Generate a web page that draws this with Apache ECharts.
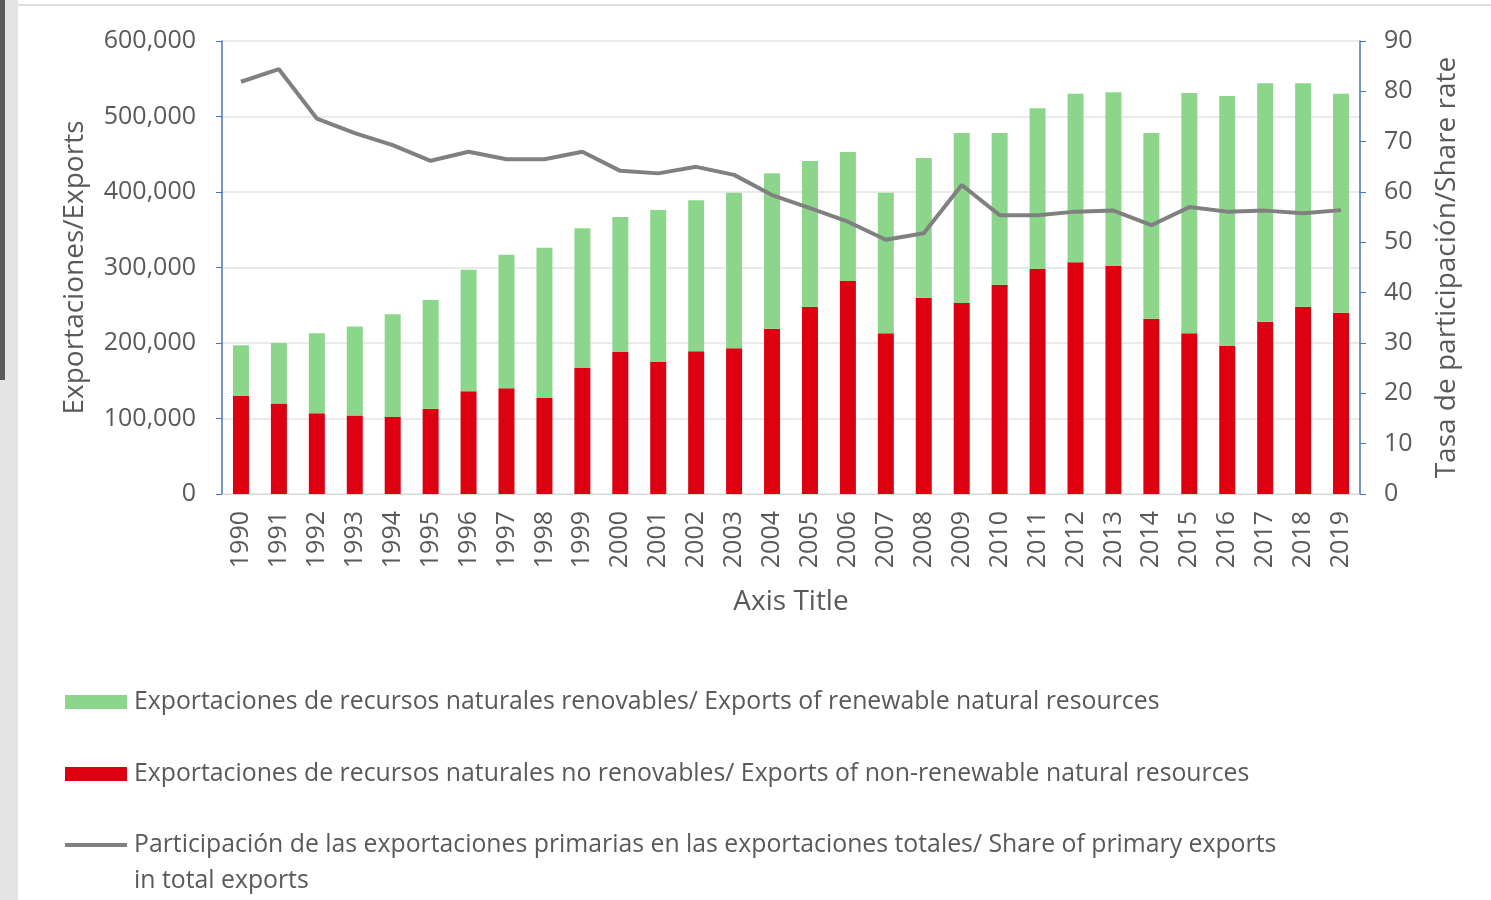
<!DOCTYPE html>
<html>
<head>
<meta charset="utf-8">
<script src="https://cdn.jsdelivr.net/npm/echarts@6/dist/echarts.min.js"></script>
<style>
  html, body { margin: 0; padding: 0; background: #ffffff; }
  #chart { width: 1491px; height: 900px; }
</style>
</head>
<body>
<div id="chart"></div>
<script>
  // years on the category axis
  var years = [
    "1990", "1991", "1992", "1993", "1994", "1995", "1996", "1997", "1998", "1999",
    "2000", "2001", "2002", "2003", "2004", "2005", "2006", "2007", "2008", "2009",
    "2010", "2011", "2012", "2013", "2014", "2015", "2016", "2017", "2018", "2019"
  ];

  // non-renewable natural resource exports (red, bottom of the stack)
  var nonRenewable = [
    130000, 120000, 107000, 104000, 102000, 113000, 136000, 140000, 127000, 167000,
    188000, 175000, 189000, 193000, 219000, 248000, 282000, 213000, 260000, 253000,
    277000, 298000, 307000, 302000, 232000, 213000, 196000, 228000, 248000, 240000
  ];

  // renewable natural resource exports (green, stacked on top)
  var renewable = [
    67000, 80000, 106000, 118000, 136000, 144000, 161000, 177000, 199000, 185000,
    179000, 201000, 200000, 206000, 206000, 193000, 171000, 186000, 185000, 225000,
    201000, 213000, 223000, 230000, 246000, 318000, 331000, 316000, 296000, 290000
  ];

  // share of primary exports in total exports (right axis)
  var shareRate = [
    81.9, 84.4, 74.6, 71.7, 69.3, 66.2, 68.0, 66.5, 66.5, 68.0,
    64.2, 63.7, 65.0, 63.4, 59.4, 56.8, 54.1, 50.5, 51.8, 61.4,
    55.4, 55.4, 56.1, 56.3, 53.4, 57.0, 56.1, 56.3, 55.8, 56.4
  ];

  var NAME_RENEW = "Exportaciones de recursos naturales renovables/ Exports of renewable natural resources";
  var NAME_NONRENEW = "Exportaciones de recursos naturales no renovables/ Exports of non-renewable natural resources";
  var NAME_SHARE = "Participación de las exportaciones primarias en las exportaciones totales/ Share of primary exports";

  var FONT = "Open Sans";
  var TEXT = "#595959";
  var AXIS_BLUE = "#4472c4";
  var GREEN = "#8cd68c";
  var RED = "#dc0010";
  var GRAY = "#808080";

  var chart = echarts.init(document.getElementById("chart"), null, { renderer: "canvas" });

  function legendBlock(name, top, h) {
    return {
      data: [{ name: name, icon: "rect" }],
      left: 65,
      top: top,
      padding: 0,
      orient: "vertical",
      itemWidth: 62,
      itemHeight: h,
      itemGap: 0,
      selectedMode: false,
      textStyle: { fontFamily: FONT, fontSize: 24.8, color: TEXT, padding: [0, 0, 0, 2], lineHeight: 30 }
    };
  }

  var option = {
    backgroundColor: "#ffffff",
    animation: false,
    textStyle: { fontFamily: FONT },
    grid: { left: 222, right: 131, top: 41, bottom: 406, containLabel: false },
    legend: [
      legendBlock(NAME_RENEW, 687, 14),
      legendBlock(NAME_NONRENEW, 759, 14),
      legendBlock(NAME_SHARE, 830, 4)
    ],
    graphic: [
      { type: "rect", left: 0, top: 0, shape: { width: 18, height: 900 }, style: { fill: "#e4e4e4" }, silent: true },
      { type: "rect", left: 0, top: 0, shape: { width: 5, height: 380 }, style: { fill: "#5a5a5a" }, silent: true },
      { type: "rect", left: 18, top: 4, shape: { width: 1473, height: 2 }, style: { fill: "#dedede" }, silent: true },
      {
        type: "text", left: 134, top: 868, silent: true,
        style: { text: "in total exports", font: "24.8px 'Open Sans'", fill: TEXT }
      }
    ],
    xAxis: {
      type: "category",
      data: years,
      name: "Axis Title",
      nameLocation: "middle",
      nameGap: 94,
      nameTextStyle: { fontFamily: FONT, fontSize: 28, color: TEXT },
      axisLine: { show: true, lineStyle: { color: "#d9d9d9", width: 1 } },
      axisTick: { show: false },
      axisLabel: { rotate: 90, fontFamily: FONT, fontSize: 25, color: TEXT, margin: 17, interval: 0 }
    },
    yAxis: [
      {
        type: "value",
        min: 0,
        max: 600000,
        interval: 100000,
        name: "Exportaciones/Exports",
        nameLocation: "middle",
        nameGap: 133,
        nameTextStyle: { fontFamily: FONT, fontSize: 28, color: TEXT },
        axisLine: { show: true, lineStyle: { color: AXIS_BLUE, width: 1.5 } },
        axisTick: { show: true, length: 6, lineStyle: { color: AXIS_BLUE } },
        axisLabel: {
          fontFamily: FONT, fontSize: 25, color: TEXT, margin: 26,
          formatter: function (v) { return v.toLocaleString("en-US"); }
        },
        splitLine: { show: true, lineStyle: { color: "#e3e3e3", width: 1.5 } }
      },
      {
        type: "value",
        min: 0,
        max: 90,
        interval: 10,
        position: "right",
        name: "Tasa de participación/Share rate",
        nameLocation: "middle",
        nameGap: 73,
        nameTextStyle: { fontFamily: FONT, fontSize: 28, color: TEXT },
        axisLine: { show: true, lineStyle: { color: AXIS_BLUE, width: 1.5 } },
        axisTick: { show: true, length: 6, lineStyle: { color: AXIS_BLUE } },
        axisLabel: { fontFamily: FONT, fontSize: 25, color: TEXT, margin: 24 },
        splitLine: { show: false }
      }
    ],
    series: [
      {
        name: NAME_NONRENEW,
        type: "bar",
        stack: "exports",
        data: nonRenewable,
        barWidth: 16,
        itemStyle: { color: RED }
      },
      {
        name: NAME_RENEW,
        type: "bar",
        stack: "exports",
        data: renewable,
        barWidth: 16,
        itemStyle: { color: GREEN }
      },
      {
        name: NAME_SHARE,
        type: "line",
        yAxisIndex: 1,
        data: shareRate,
        symbol: "none",
        lineStyle: { color: GRAY, width: 4 },
        itemStyle: { color: GRAY },
        z: 5
      }
    ]
  };

  chart.setOption(option);
</script>
</body>
</html>
